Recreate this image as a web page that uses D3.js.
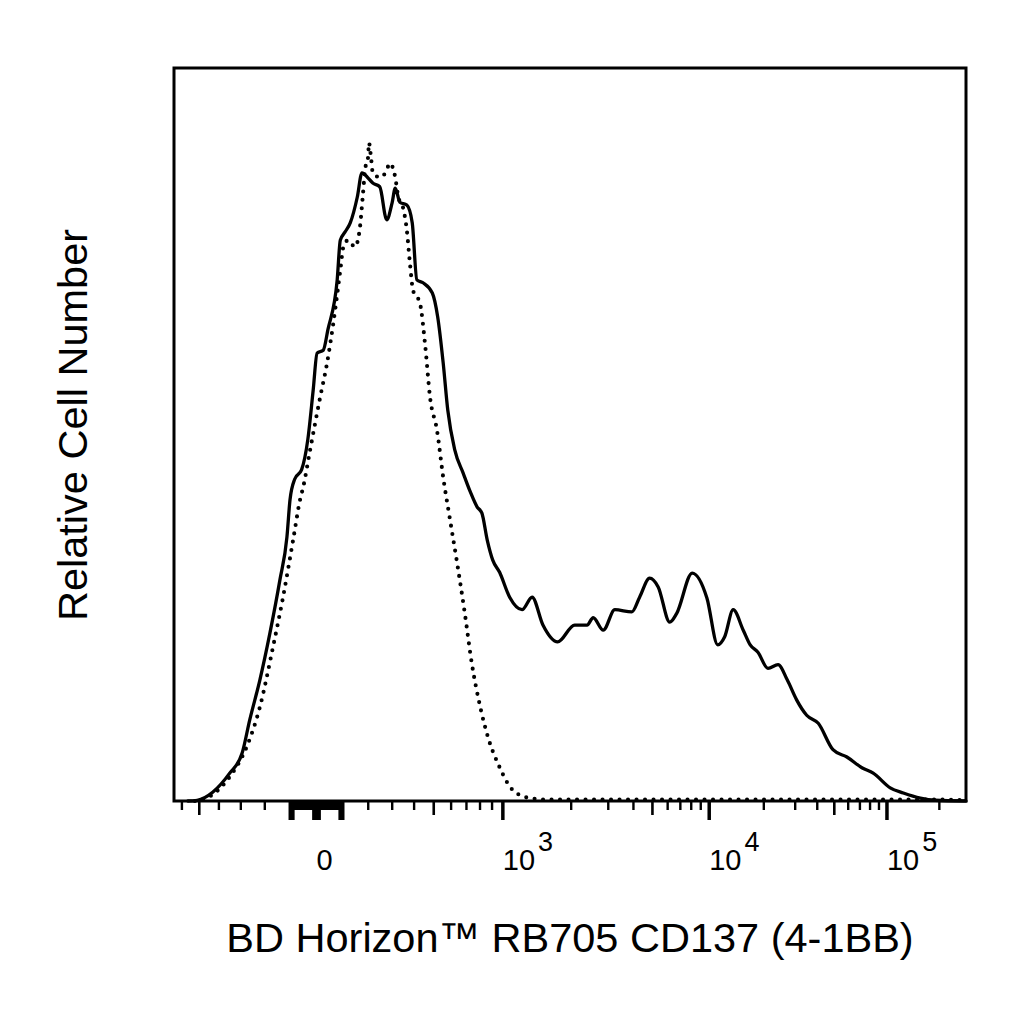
<!DOCTYPE html>
<meta charset="utf-8">
<style>
body { margin: 0; background: #fff; }
text { font-family: "Liberation Sans", Arial, sans-serif; fill: #000; }
.frame { fill: none; stroke: #000; stroke-width: 3px; }
.tick { stroke: #000; }
.solid { fill: none; stroke: #000; stroke-width: 3.3px; stroke-linejoin: round; stroke-linecap: round; }
.dotted { fill: none; stroke: #000; stroke-width: 4.1px; stroke-linecap: round; stroke-dasharray: 0 8.5; }
</style>
<body>
<script src="https://d3js.org/d3.v7.min.js"></script>
<svg id="chart" width="1024" height="1024"></svg>
<script>

// histograms, binned on display channels (0-1024 across the biexponential axis)
var solidChannel = [18, 30, 50, 72, 88, 98, 111, 124, 137, 146, 150, 156, 165, 173, 180, 185, 193, 199,
  211, 215, 221, 228, 237, 243, 250, 257, 266, 275, 282, 286, 292, 301, 308, 314, 322, 334, 341, 348,
  354, 363, 374, 383, 392, 398, 405, 412, 421, 434, 450, 463, 477, 496, 518, 534, 542, 555, 570, 592,
  602, 615, 626, 641, 650, 670, 689, 703, 712, 723, 736, 745, 755, 768, 781, 793, 805, 818, 833, 852,
  870, 890, 904, 926, 943, 965, 984, 1024];
var solidCount = [0, 0.1, 1.2, 3.8, 6.5, 11.1, 16.5, 22.9, 30.2, 36.0, 41.1, 43.9, 45.2, 49.3, 56.1, 61.1, 61.5, 64.3,
  71.1, 76.5, 77.6, 78.9, 82.4, 85.7, 85.1, 84.3, 83.8, 79.3, 81.6, 83.6, 81.7, 81.3, 78.9, 71.1, 70.7, 69.3, 66.0, 59.8,
  53.3, 47.9, 44.7, 42.2, 40.1, 39.3, 35.6, 32.9, 31.2, 27.8, 26.1, 27.8, 24.0, 21.7, 24.0, 24.0, 25.0, 23.3, 26.1, 25.8,
  27.8, 30.4, 29.2, 24.4, 25.6, 31.1, 27.7, 21.3, 22.4, 26.1, 23.3, 21.3, 20.3, 18.1, 18.6, 16.5, 13.8, 11.7, 10.6, 7.0,
  6.0, 4.5, 3.8, 1.8, 1.1, 0.4, 0.1, 0];

var dottedChannel = [27, 49, 72, 94, 111, 128, 141, 154, 163, 167, 176, 189, 198, 206, 215, 219, 225, 234, 240,
  244, 247, 251, 252, 255, 257, 266, 274, 279, 286, 290, 296, 301, 305, 309, 318, 325, 331, 340, 348, 357,
  366, 376, 385, 396, 406, 421, 438, 460, 482, 600, 800, 980, 1024];
var dottedCount = [0, 0.8, 3.3, 7.4, 12.8, 21.0, 27.8, 35.6, 41.1, 42.8, 47.9, 55.1, 59.8, 65.2, 72.4, 75.6, 76.5, 75.6, 77.9,
  82.4, 86.1, 87.9, 89.8, 87.5, 85.7, 85.1, 85.8, 87.0, 85.1, 82.4, 81.0, 77.9, 73.4, 69.7, 67.9, 61.9, 55.1, 50.6, 44.2, 38.3,
  32.5, 25.6, 18.8, 12.8, 8.7, 4.6, 1.5, 0.4, 0.2, 0.2, 0.2, 0.2, 0.1];

// axis ticks (fluorescence units)
var majorTicks = [-100, -90, -10, 0, 10, 90, 100, 1000, 10000, 100000];
var midTicks = [-500, 500, 5000, 50000];
var minorTicks = [-600, -400, -300, -200, 200, 300, 400, 600, 700, 800, 900,
  2000, 3000, 4000, 6000, 7000, 8000, 9000,
  20000, 30000, 40000, 60000, 70000, 80000, 90000, 200000];
var denseTicks = [-85, -80, -75, -70, -65, -60, -55, -50, -45, -40, -35, -30, -25, -20, -15,
  15, 20, 25, 30, 35, 40, 45, 50, 55, 60, 65, 70, 75, 80, 85];
var labelValues = [0, 1000, 10000, 100000];
var labelExponents = ["", "3", "4", "5"];

var xTitle = "BD Horizon\u2122 RB705 CD137 (4-1BB)";
var yTitle = "Relative Cell Number";

var margin = {top: 68, left: 174},
    width = 792,
    height = 733;

// biexponential (logicle-like) display transform
var linA = 50, pW = 4.7;
function biexToValue(u) {
  var a = Math.abs(u);
  var v = linA * (Math.pow(10, a) - pW * pW * Math.pow(10, -a / pW) + pW * pW - 1);
  return u < 0 ? -v : v;
}
function valueToBiex(v) {
  var lo = -3, hi = 6;
  for (var i = 0; i < 80; i++) {
    var mid = (lo + hi) / 2;
    if (biexToValue(mid) < v) lo = mid; else hi = mid;
  }
  return (lo + hi) / 2;
}

var xScale = d3.scaleLinear()
    .domain([valueToBiex(-650), valueToBiex(284800)])
    .range([0, width]);
var chanScale = d3.scaleLinear().domain([0, 1024]).range([0, width]);
var yScale = d3.scaleLinear().domain([0, 100]).range([height, 0]);

function xPos(v) { return xScale(valueToBiex(v)); }

var svg = d3.select("#chart");
var g = svg.append("g")
    .attr("transform", "translate(" + margin.left + "," + margin.top + ")");

var line = d3.line()
    .curve(d3.curveMonotoneX)
    .x(function(d) { return chanScale(d[0]); })
    .y(function(d) { return yScale(d[1]); });

g.append("path")
    .attr("class", "dotted")
    .attr("d", line(d3.zip(dottedChannel, dottedCount)));

g.append("path")
    .attr("class", "solid")
    .attr("d", line(d3.zip(solidChannel, solidCount)));

g.append("rect")
    .attr("class", "frame")
    .attr("width", width)
    .attr("height", height);

// ticks
function drawTicks(values, len, w) {
  g.append("g").selectAll("line")
    .data(values)
    .enter().append("line")
      .attr("class", "tick")
      .attr("x1", xPos).attr("x2", xPos)
      .attr("y1", height).attr("y2", height + len)
      .style("stroke-width", w);
}
drawTicks(denseTicks, 9, 3);
drawTicks(minorTicks, 9, 2.4);
drawTicks(midTicks, 14, 2.6);
drawTicks(majorTicks, 19, 3.5);

var labels = g.append("g").selectAll("text")
    .data(labelValues)
    .enter().append("text")
      .attr("x", xPos)
      .attr("y", height + 69)
      .style("font-size", "29px");
labels.append("tspan").text(function(d) { return d === 0 ? "0" : "10"; });
labels.append("tspan")
    .attr("dx", 3)
    .attr("dy", -19)
    .style("font-size", "27px")
    .text(function(d, i) { return labelExponents[i]; });

svg.append("text")
    .attr("x", margin.left + width / 2)
    .attr("y", 952)
    .attr("text-anchor", "middle")
    .style("font-size", "41.5px")
    .text(xTitle);

svg.append("text")
    .attr("transform", "translate(87," + (margin.top + 357) + ") rotate(-90)")
    .attr("text-anchor", "middle")
    .style("font-size", "41.5px")
    .text(yTitle);

</script>
</body>
